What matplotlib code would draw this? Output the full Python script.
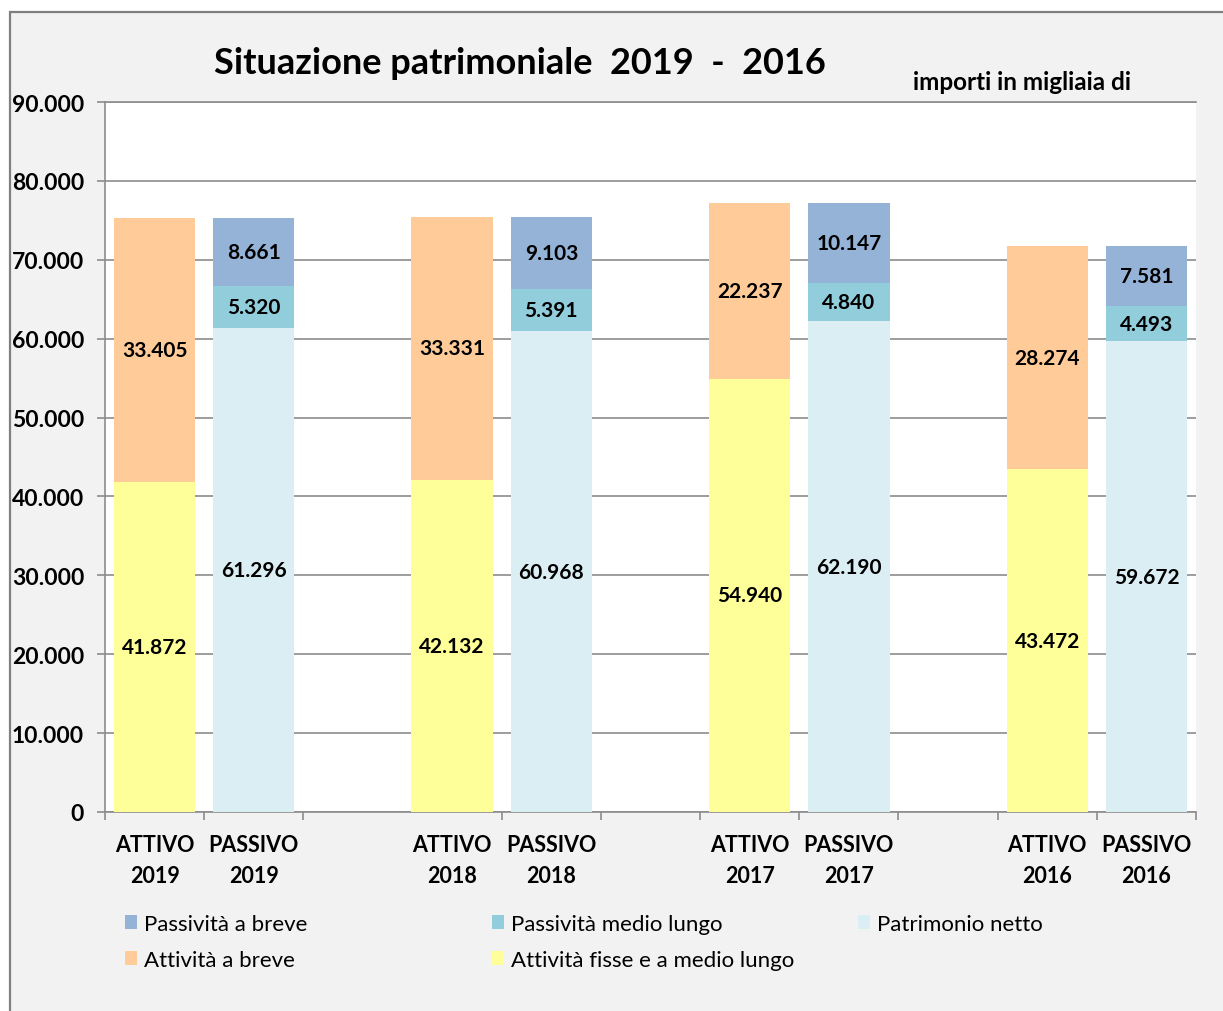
import matplotlib
matplotlib.use('Agg')
import matplotlib.pyplot as plt
from matplotlib.patches import Rectangle, Patch
from matplotlib.ticker import FuncFormatter

# ---------------- data ----------------
years = ['2019', '2018', '2017', '2016']
attivita_fisse = [41872, 42132, 54940, 43472]        # Attività fisse e a medio lungo
attivita_breve = [33405, 33331, 22237, 28274]        # Attività a breve
patrimonio_netto = [61296, 60968, 62190, 59672]      # Patrimonio netto
passivita_medio_lungo = [5320, 5391, 4840, 4493]     # Passività medio lungo
passivita_breve = [8661, 9103, 10147, 7581]          # Passività a breve
y_tick_values = [0, 10000, 20000, 30000, 40000, 50000, 60000, 70000, 80000, 90000]

# ---------------- style ----------------
FONT = 'Lato'
C_PB = '#95B3D7'
C_PML = '#92CDDC'
C_PN = '#DAEEF3'
C_AB = '#FFCB99'
C_AF = '#FFFF99'
GRID = '#8C8C8C'

def fmt(v, pos=None):
    return f"{int(v):,}".replace(',', '.')

W, H = 1223, 1012
fig = plt.figure(figsize=(W / 100, H / 100), dpi=100, facecolor='white')

# chart area background with border (top and left visible)
bg = Rectangle((9.5 / W, -0.05), 1.2, (H - 12.5) / H + 0.05, transform=fig.transFigure,
               facecolor='#F2F2F2', edgecolor='#808080', linewidth=1.6, zorder=-10)
fig.add_artist(bg)

ax = fig.add_axes([105 / W, (H - 813) / H, (1196 - 105) / W, (813 - 103) / H])
ax.set_facecolor('white')

att_pos = [3 * i for i in range(len(years))]
pas_pos = [3 * i + 1 for i in range(len(years))]
bw = 0.82

b_af = ax.bar(att_pos, attivita_fisse, bw, color=C_AF, zorder=3, label='Attività fisse e a medio lungo')
b_ab = ax.bar(att_pos, attivita_breve, bw, bottom=attivita_fisse, color=C_AB, zorder=3, label='Attività a breve')
b_pn = ax.bar(pas_pos, patrimonio_netto, bw, color=C_PN, zorder=3, label='Patrimonio netto')
bottom2 = [a + b for a, b in zip(patrimonio_netto, passivita_medio_lungo)]
b_pml = ax.bar(pas_pos, passivita_medio_lungo, bw, bottom=patrimonio_netto, color=C_PML, zorder=3,
               label='Passività medio lungo')
b_pb = ax.bar(pas_pos, passivita_breve, bw, bottom=bottom2, color=C_PB, zorder=3, label='Passività a breve')

for cont, vals in [(b_af, attivita_fisse), (b_ab, attivita_breve), (b_pn, patrimonio_netto),
                   (b_pml, passivita_medio_lungo), (b_pb, passivita_breve)]:
    ax.bar_label(cont, labels=[fmt(v) for v in vals], label_type='center',
                 fontsize=15, fontweight='bold', family=FONT, color='black', zorder=5)

ax.set_xlim(-0.5, 3 * len(years) - 1.5)
ax.set_ylim(0, 90000)
ax.set_yticks(y_tick_values)
ax.yaxis.set_major_formatter(FuncFormatter(fmt))
ax.yaxis.grid(True, color=GRID, linewidth=1.2, zorder=0)
ax.set_axisbelow(True)

ax.spines['right'].set_visible(False)
for s in ['left', 'bottom', 'top']:
    ax.spines[s].set_color(GRID)
    ax.spines[s].set_linewidth(1.2)

ax.tick_params(axis='y', length=6, width=1.2, color=GRID, pad=9, labelsize=16.5)
for lbl in ax.get_yticklabels():
    lbl.set_fontweight('bold'); lbl.set_family(FONT)

xt = []
xl = []
for i, y in enumerate(years):
    xt += [att_pos[i], pas_pos[i]]
    xl += [f'ATTIVO\n{y}', f'PASSIVO\n{y}']
ax.set_xticks(xt)
ax.set_xticklabels(xl, fontsize=15.5, fontweight='bold', family=FONT, linespacing=1.55)
ax.tick_params(axis='x', length=0, pad=16)
bounds = [p - 0.5 for p in range(3 * len(years))]
bounds = [b for b in bounds if abs(b - 2.5) > 0.01]
ax.set_xticks(bounds, minor=True)
ax.tick_params(axis='x', which='minor', length=6, width=1.2, color=GRID)

# titles
fig.text(520 / W, (H - 64) / H, 'Situazione patrimoniale  2019  -  2016', ha='center', va='center',
         fontsize=26, fontweight='bold', family=FONT)
fig.text(913 / W, (H - 82) / H, 'importi in migliaia di', ha='left', va='center',
         fontsize=17.5, fontweight='bold', family=FONT)

# legend: three columns
cols = [
    ([b_pb, b_ab], ['Passività a breve', 'Attività a breve'], 125),
    ([b_pml, b_af], ['Passività medio lungo', 'Attività fisse e a medio lungo'], 492),
    ([b_pn], ['Patrimonio netto'], 858),
]
for handles, labels, xpx in cols:
    hs = [Patch(facecolor=h.patches[0].get_facecolor()) for h in handles]
    fig.legend(hs, labels, loc='upper left', bbox_to_anchor=(xpx / W, (H - 915) / H),
               frameon=False, borderpad=0, borderaxespad=0, handlelength=0.55, handleheight=0.55,
               handletextpad=0.3, labelspacing=0.72, prop={'family': FONT, 'size': 16})

fig.savefig('out.png', dpi=100, facecolor='white')
